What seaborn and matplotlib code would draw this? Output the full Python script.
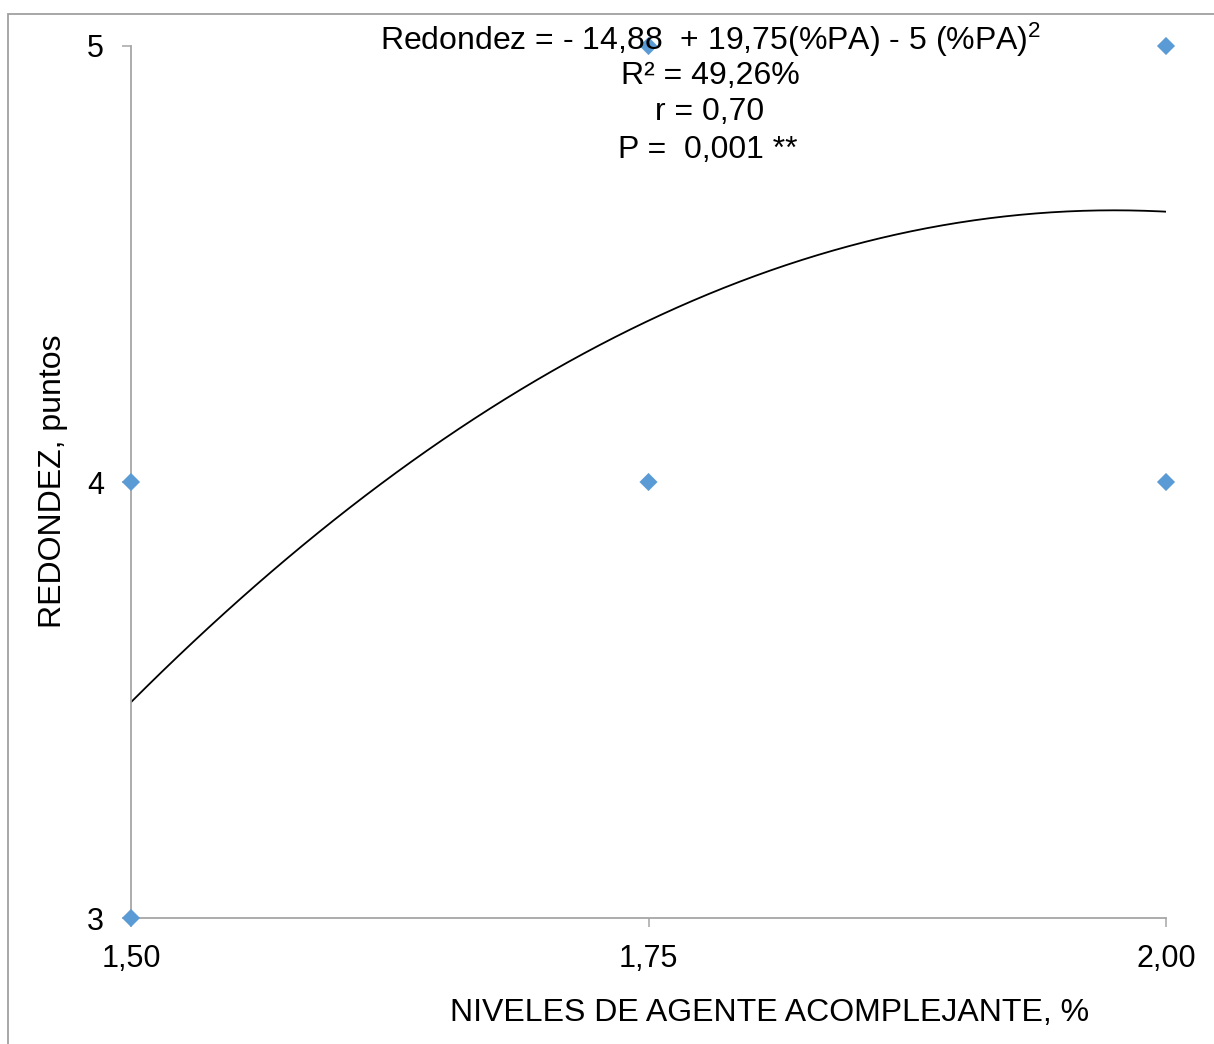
import numpy as np
import pandas as pd
import matplotlib
matplotlib.use("Agg")
import matplotlib.pyplot as plt
import seaborn as sns
from matplotlib.patches import Rectangle

# ---- data ----
x_points = [1.50, 1.50, 1.75, 1.75, 2.00, 2.00]
y_points = [4, 3, 5, 4, 5, 4]
coef = [-14.88, 19.75, -5.0]  # trendline coefficients shown on the chart
x_ticks = [1.50, 1.75, 2.00]
x_ticklabels = ["1,50", "1,75", "2,00"]
y_ticks = [3, 4, 5]
y_ticklabels = ["3", "4", "5"]
eq_lines = ["Redondez = - 14,88  + 19,75(%PA) - 5 (%PA)$^{2}$",
            "R² = 49,26%", "r = 0,70", "P =  0,001 **"]
x_label = "NIVELES DE AGENTE ACOMPLEJANTE, %"
y_label = "REDONDEZ, puntos"

sns.set_style("white")
plt.rcParams['font.family'] = ['Liberation Sans', 'DejaVu Sans']
plt.rcParams['mathtext.fontset'] = 'custom'
plt.rcParams['mathtext.rm'] = 'Liberation Sans'
plt.rcParams['mathtext.it'] = 'Liberation Sans'
plt.rcParams['text.color'] = 'black'

W, H = 1214, 1044
fig = plt.figure(figsize=(W / 100, H / 100), dpi=100)
ax = fig.add_axes([131 / W, 1 - 918 / H, (1166 - 131) / W, (918 - 46) / H])

df = pd.DataFrame({"x": x_points, "y": y_points})
xs = np.linspace(min(x_points), max(x_points), 200)
curve = pd.DataFrame({"x": xs, "y": np.polyval(coef[::-1], xs)})

sns.lineplot(data=curve, x="x", y="y", ax=ax, color="black", linewidth=1.3)
sns.scatterplot(data=df, x="x", y="y", ax=ax, marker="D", s=85,
                color="#5B9BD5", edgecolor="none", linewidth=0, clip_on=False, zorder=5)

ax.set_xlim(1.5, 2.0)
ax.set_ylim(3, 5)
ax.set_xticks(x_ticks)
ax.set_xticklabels(x_ticklabels)
ax.set_yticks(y_ticks)
ax.set_yticklabels(y_ticklabels)
ax.set_xlabel("")
ax.set_ylabel("")

for s in ["top", "right"]:
    ax.spines[s].set_visible(False)
for s in ["left", "bottom"]:
    ax.spines[s].set_color("#A6A6A6")
    ax.spines[s].set_linewidth(1.3)

ax.tick_params(axis="both", which="major", direction="out", length=6.5, width=1.1,
               color="#A6A6A6", labelsize=22, labelcolor="black",
               bottom=True, left=True)
ax.tick_params(axis="y", pad=13)
ax.tick_params(axis="x", pad=12)

fig.text(770 / W, 1 - 1013 / H, x_label, ha="center", va="center", fontsize=23)
fig.text(53 / W, 1 - 481 / H, y_label, ha="center", va="center", rotation=90, fontsize=23)

ys = [40, 76, 112, 150]
xc = [711, 710, 710, 708]
for t, yy, xx in zip(eq_lines, ys, xc):
    fig.text(xx / W, 1 - yy / H, t, ha="center", va="center", fontsize=23)

fig.patches.append(Rectangle((8 / W, -0.1), 1.2, 1 - 14 / H + 0.1, transform=fig.transFigure,
                             fill=False, edgecolor="#A0A0A0", linewidth=1.3, zorder=0))

fig.savefig("out.png", dpi=100)
